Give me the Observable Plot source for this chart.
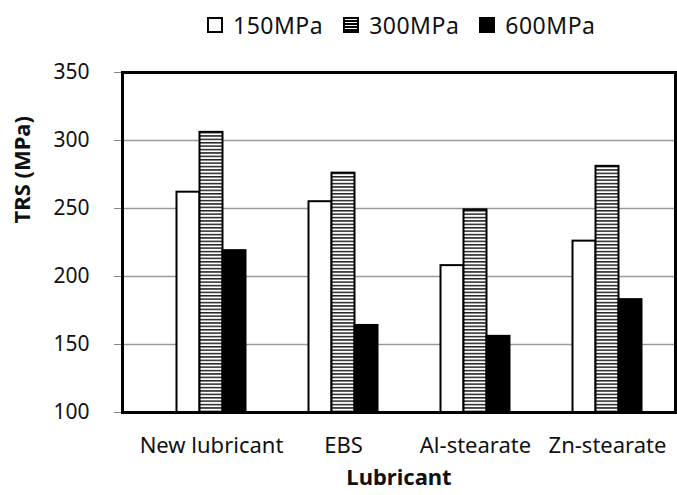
<!DOCTYPE html>
<html>
<head>
<meta charset="utf-8">
<script src="https://cdn.jsdelivr.net/npm/d3@7"></script>
<script src="https://cdn.jsdelivr.net/npm/@observablehq/plot@0.6"></script>
<style>
  html, body { margin: 0; padding: 0; background: #fff; }
  body { width: 677px; height: 495px; overflow: hidden; font-family: "Noto Sans", sans-serif; color: #111; }
  #legend { height: 40px; box-sizing: border-box; padding-top: 12px; padding-left: 207px; display: flex; align-items: flex-start; font-size: 23px; line-height: 26px; letter-spacing: 0.5px; }
  .item { display: flex; align-items: center; margin-right: 20px; }
  .sw { width: 12px; height: 12px; border: 2px solid #000; margin-right: 10px; box-sizing: content-box; }
  #chart svg { display: block; }
</style>
</head>
<body>
<div id="legend"></div>
<div id="chart"></div>
<script>
const lubricants = ["New lubricant", "EBS", "Al-stearate", "Zn-stearate"];
const pressures = ["150MPa", "300MPa", "600MPa"];
const trs150 = [262, 255, 208, 226];
const trs300 = [306, 276, 249, 281];
const trs600 = [219, 164, 156, 183];
const yTicks = [100, 150, 200, 250, 300, 350];
const gridTicks = [150, 200, 250, 300];

const rows = (vals) => lubricants.map((l, i) => ({lubricant: l, value: vals[i]}));
const s150 = rows(trs150), s300 = rows(trs300), s600 = rows(trs600);

// legend
const legendStyles = [
  "background:#fff",
  "background:repeating-linear-gradient(to bottom,#fff 0px,#fff 1.5px,#000 1.5px,#000 3px)",
  "background:#000"
];
const legend = document.getElementById("legend");
pressures.forEach((p, i) => {
  const it = document.createElement("div");
  it.className = "item";
  const sw = document.createElement("span");
  sw.className = "sw";
  sw.setAttribute("style", legendStyles[i]);
  const tx = document.createElement("span");
  tx.textContent = p;
  it.appendChild(sw); it.appendChild(tx);
  legend.appendChild(it);
});

const barW = 23;
const step = 132;
const inset = (step - barW) / 2;
const common = {x: "lubricant", y1: () => 100, y2: "value", insetLeft: inset, insetRight: inset, stroke: "#000", strokeWidth: 2};

const chart = Plot.plot({
  width: 677,
  height: 455,
  marginTop: 32,
  marginBottom: 83,
  marginLeft: 122,
  marginRight: 2,
  style: {fontFamily: "'Noto Sans', sans-serif", fontSize: "20px", color: "#111", background: "#fff"},
  x: {domain: lubricants, range: [145, 673], padding: 0, axis: null},
  y: {domain: [100, 350], axis: null},
  marks: [
    Plot.gridY(gridTicks, {stroke: "#9a9a9a", strokeOpacity: 1, strokeWidth: 1.5}),
    Plot.barY(s150, {...common, fill: "#fff", dx: -barW}),
    Plot.barY(s300, {...common, fill: "url(#stripes)", dx: 0}),
    Plot.barY(s600, {...common, fill: "#000", dx: barW}),
    Plot.axisY({ticks: yTicks, tickSize: 8, tickPadding: 25, stroke: "#888", fontSize: 21, label: null}),
    Plot.axisX({tickSize: 0, tickPadding: 25, fontSize: 22, label: null}),
    Plot.frame({stroke: "#000", strokeWidth: 3}),
    Plot.text(["TRS (MPa)"], {frameAnchor: "left", rotate: -90, dx: -100, dy: -19, fontWeight: "bold", fontSize: 22}),
    Plot.text(["Lubricant"], {frameAnchor: "bottom", dy: 72, fontWeight: "bold", fontSize: 22})
  ]
});

// stripe pattern for 300MPa bars
const ns = "http://www.w3.org/2000/svg";
const defs = document.createElementNS(ns, "defs");
const pat = document.createElementNS(ns, "pattern");
pat.setAttribute("id", "stripes");
pat.setAttribute("patternUnits", "userSpaceOnUse");
pat.setAttribute("width", "8");
pat.setAttribute("height", "3.4");
const r1 = document.createElementNS(ns, "rect");
r1.setAttribute("width", "8"); r1.setAttribute("height", "3.4"); r1.setAttribute("fill", "#fff");
const r2 = document.createElementNS(ns, "rect");
r2.setAttribute("width", "8"); r2.setAttribute("height", "1.5"); r2.setAttribute("fill", "#222");
pat.appendChild(r1); pat.appendChild(r2);
defs.appendChild(pat);
chart.insertBefore(defs, chart.firstChild);

document.getElementById("chart").appendChild(chart);
</script>
</body>
</html>
